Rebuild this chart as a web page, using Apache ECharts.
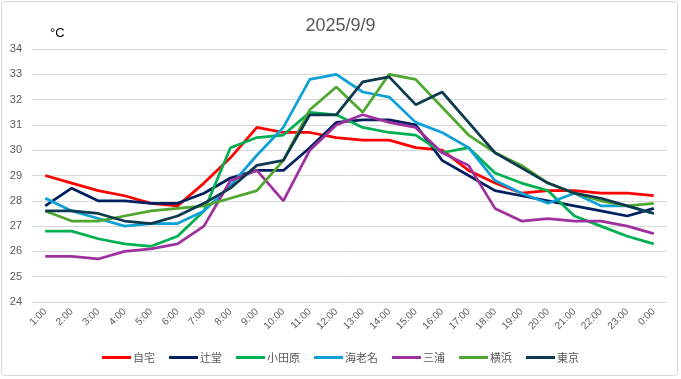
<!DOCTYPE html>
<html><head><meta charset="utf-8">
<script src="https://cdn.jsdelivr.net/npm/echarts@6/dist/echarts.min.js"></script>
<style>html,body{margin:0;padding:0;background:#fff}#c{width:681px;height:379px}
#frame{position:absolute;left:1px;top:1px;width:677px;height:375px;border:1px solid #d9d9d9;border-radius:4px;box-sizing:border-box;pointer-events:none}</style>
</head><body><div id="c"></div><div id="frame"></div>
<script>
const hours = ['1:00','2:00','3:00','4:00','5:00','6:00','7:00','8:00','9:00','10:00','11:00','12:00','13:00','14:00','15:00','16:00','17:00','18:00','19:00','20:00','21:00','22:00','23:00','0:00'];
const jitaku   = [29.0,28.7,28.4,28.2,27.9,27.8,28.7,29.7,30.9,30.7,30.7,30.5,30.4,30.4,30.1,30.0,29.2,28.7,28.3,28.4,28.4,28.3,28.3,28.2];
const tsujido  = [27.8,28.5,28.0,28.0,27.9,27.9,28.3,28.9,29.2,29.2,30.1,31.1,31.2,31.2,31.0,29.6,29.0,28.4,28.2,28.0,27.8,27.6,27.4,27.7];
const odawara  = [26.8,26.8,26.5,26.3,26.2,26.6,27.6,30.1,30.5,30.6,31.5,31.4,30.9,30.7,30.6,29.9,30.1,29.1,28.7,28.4,27.4,27.0,26.6,26.3];
const ebina    = [28.1,27.6,27.3,27.0,27.1,27.1,27.6,28.6,29.8,30.9,32.8,33.0,32.3,32.1,31.1,30.7,30.1,28.8,28.3,27.9,28.3,27.8,27.8,27.5];
const miura    = [25.8,25.8,25.7,26.0,26.1,26.3,27.0,28.8,29.2,28.0,30.0,31.0,31.4,31.1,30.9,29.9,29.4,27.7,27.2,27.3,27.2,27.2,27.0,26.7];
const yokohama = [27.6,27.2,27.2,27.4,27.6,27.7,27.8,28.1,28.4,29.6,31.6,32.5,31.5,33.0,32.8,31.7,30.6,29.9,29.4,28.7,28.3,28.0,27.8,27.9];
const tokyo    = [27.6,27.6,27.5,27.2,27.1,27.4,27.9,28.5,29.4,29.6,31.4,31.4,32.7,32.9,31.8,32.3,31.1,29.9,29.3,28.7,28.3,28.1,27.8,27.5];
const names = ['自宅','辻堂','小田原','海老名','三浦','横浜','東京'];
const colors = ['#FF0000','#002060','#00B050','#0FA0D8','#A0309F','#4EA72E','#0E3A4F'];
const seriesData = [jitaku,tsujido,odawara,ebina,miura,yokohama,tokyo];
const yTicks = {min:24,max:34,interval:1};

const chart = echarts.init(document.getElementById('c'));
const SANS = 'Liberation Sans';
const CJK = 'Noto Sans CJK JP';
chart.setOption({
  animation:false,
  textStyle:{fontFamily:SANS},
  color:colors,
  title:[{text:'2025/9/9',left:'center',top:12,textStyle:{fontSize:18,fontWeight:'normal',color:'#595959',fontFamily:SANS}},
         {text:'°C',left:45,top:22,textStyle:{fontSize:13,fontWeight:'normal',color:'#000',fontFamily:SANS}}],
  legend:{bottom:11,left:'center',itemWidth:29,itemHeight:3,itemGap:14,icon:'rect',
    textStyle:{fontSize:11,color:'#595959',fontFamily:CJK,padding:[0,0,0,-3]},data:names},
  grid:{left:32,right:14,top:49,bottom:77,containLabel:false},
  xAxis:{type:'category',data:hours,boundaryGap:true,
    axisLine:{lineStyle:{color:'#d9d9d9'}},axisTick:{show:false},
    axisLabel:{rotate:45,fontSize:10,color:'#595959',interval:0,margin:8,fontFamily:SANS}},
  yAxis:{type:'value',min:yTicks.min,max:yTicks.max,interval:yTicks.interval,
    axisLine:{show:false},axisTick:{show:false},
    splitLine:{lineStyle:{color:'#d9d9d9',width:1}},
    axisLabel:{fontSize:11,color:'#595959',margin:10,fontFamily:SANS}},
  series:names.map((n,i)=>({name:n,type:'line',data:seriesData[i],showSymbol:false,symbol:'none',
    lineStyle:{width:2.75,color:colors[i]},itemStyle:{color:colors[i]}}))
});
</script></body></html>
